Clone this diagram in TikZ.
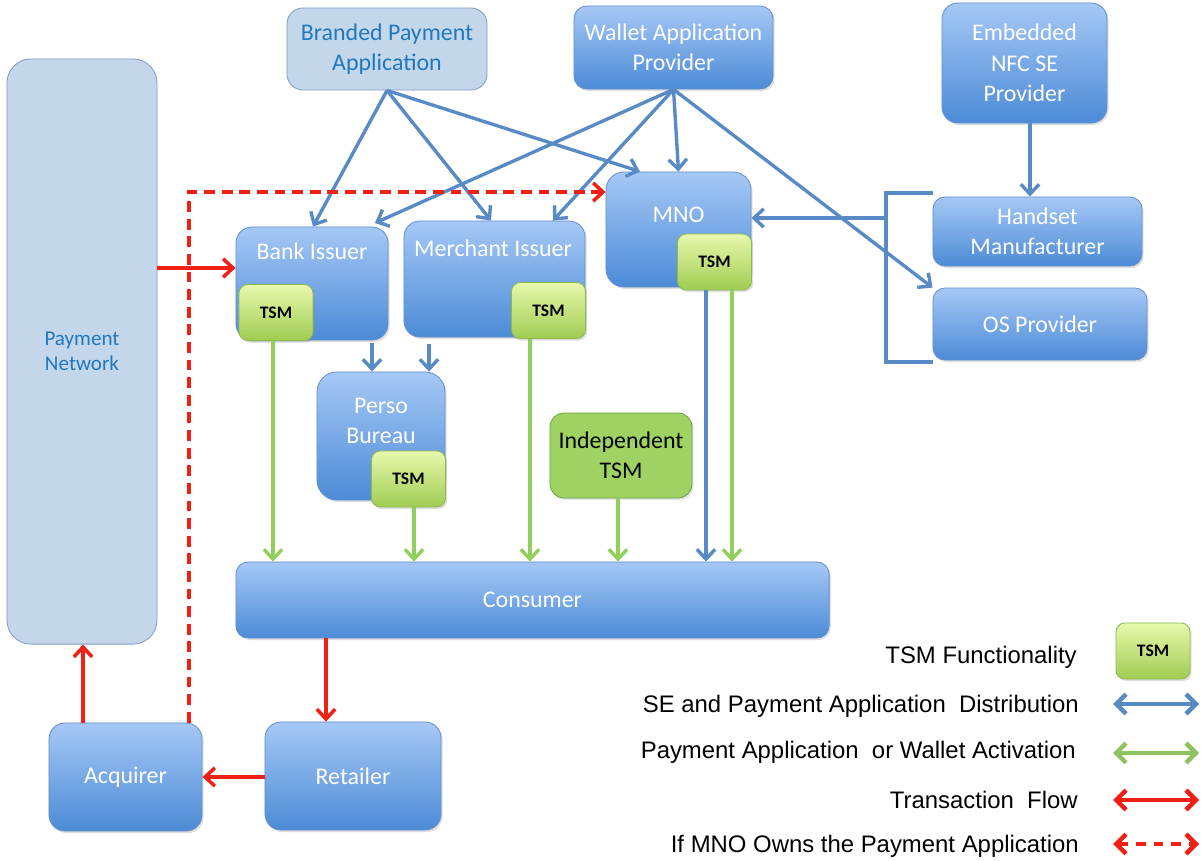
\documentclass[tikz,border=0pt]{standalone}
\usepackage{fontspec}
\setmainfont{Carlito}
\newfontfamily\legfont{Liberation Sans}
\usetikzlibrary{arrows.meta,shadows,positioning,calc}

\definecolor{boxtop}{RGB}{166,200,246}
\definecolor{boxbot}{RGB}{76,139,214}
\definecolor{boxline}{RGB}{100,145,205}
\definecolor{paleblue}{RGB}{196,214,234}
\definecolor{paleline}{RGB}{128,156,200}
\definecolor{paletext}{RGB}{32,120,192}
\definecolor{tsmtop}{RGB}{232,248,172}
\definecolor{tsmbot}{RGB}{160,204,82}
\definecolor{tsmline}{RGB}{140,185,80}
\definecolor{indepfill}{RGB}{158,210,98}
\definecolor{indepline}{RGB}{112,160,72}
\definecolor{distblue}{RGB}{88,138,198}
\definecolor{actgreen}{RGB}{146,206,92}
\definecolor{txred}{RGB}{240,32,20}

\begin{document}
\begin{tikzpicture}[x=0.025cm,y=-0.025cm]
	\tikzstyle{every node}+=[inner sep=0pt]
	\tikzstyle{blubox}=[draw=boxline, line width=0.6pt, rounded corners=0.4cm, top color=boxtop, bottom color=boxbot, text=white, align=center, font=\fontsize{17}{21.5}\selectfont, drop shadow={opacity=0.25, shadow xshift=1.2pt, shadow yshift=-1.5pt}]
	\tikzstyle{palebox}=[draw=paleline, line width=0.6pt, rounded corners=0.4cm, fill=paleblue, text=paletext, align=center, font=\fontsize{17}{21.5}\selectfont]
	\tikzstyle{tsmbox}=[draw=tsmline, line width=0.6pt, rounded corners=0.22cm, top color=tsmtop, bottom color=tsmbot, text=black, font=\bfseries\fontsize{12.5}{14}\selectfont, minimum width=1.85cm, minimum height=1.4cm, drop shadow={opacity=0.25, shadow xshift=1.2pt, shadow yshift=-1.5pt}]
	\tikzstyle{boxlbl}=[text=white, align=center, font=\fontsize{17}{21.5}\selectfont]
	\tikzstyle{distarr}=[draw=distblue, line width=2.4pt, -{Straight Barb[length=7pt,width=13pt]}]
	\tikzstyle{actarr}=[draw=actgreen, line width=2.4pt, -{Straight Barb[length=7pt,width=13pt]}]
	\tikzstyle{txarr}=[draw=txred, line width=2.5pt, -{Straight Barb[length=7pt,width=13pt]}]
	\tikzstyle{ownarr}=[txarr, dash pattern=on 0.27cm off 0.17cm]
	\tikzstyle{legtxt}=[anchor=base east, text=black, font=\legfont\fontsize{17}{20}\selectfont]
	\tikzstyle{legarr}=[line width=3.2pt, {Straight Barb[length=7pt,width=14pt]}-{Straight Barb[length=7pt,width=14pt]}]

	\useasboundingbox (0,0) rectangle (1201,860);

	% boxes
	\node[palebox, rounded corners=0.6cm, minimum width=3.75cm, minimum height=14.625cm, font=\fontsize{15}{18}\selectfont] (pnet) at (82,351.5) {Payment\\Network};
	\node[palebox, minimum width=5cm, minimum height=2.05cm] (brand) at (387,49) {Branded Payment\\Application};
	\node[blubox, rounded corners=0.32cm, minimum width=4.975cm, minimum height=2.075cm] (wallet) at (673.5,47.5) {Wallet Application\\Provider};
	\node[blubox, minimum width=4.125cm, minimum height=3cm] (nfcse) at (1024.5,63) {Embedded\\NFC SE\\Provider};
	\node[blubox, rounded corners=0.45cm, minimum width=3.625cm, minimum height=2.875cm] (mno) at (678.5,229.5) {};
	\node[tsmbox] (mnotsm) at (714.5,262) {TSM};
	\node[blubox, minimum width=3.8cm, minimum height=2.825cm] (bank) at (312,283.5) {};
	\node[tsmbox] (banktsm) at (276,312.5) {TSM};
	\node[blubox, minimum width=4.525cm, minimum height=2.9cm] (merch) at (494.5,279) {};
	\node[tsmbox] (merchtsm) at (548.5,310.5) {TSM};
	\node[blubox, rounded corners=0.3cm, minimum width=5.225cm, minimum height=1.725cm] (hset) at (1037.5,231.5) {Handset\\Manufacturer};
	\node[blubox, rounded corners=0.3cm, minimum width=5.35cm, minimum height=1.8cm] (osp) at (1040,324) {OS Provider};
	\node[blubox, rounded corners=0.5cm, minimum width=3.2cm, minimum height=3.2cm] (perso) at (381,436) {};
	\node[tsmbox] (persotsm) at (408.5,479) {TSM};
	\node[draw=indepline, line width=0.6pt, rounded corners=0.35cm, fill=indepfill, align=center, font=\fontsize{17}{21.5}\selectfont, minimum width=3.55cm, minimum height=2.125cm, drop shadow={opacity=0.2, shadow xshift=1.2pt, shadow yshift=-1.5pt}] (indep) at (621,455.5) {Independent\\TSM};
	\node[blubox, rounded corners=0.3cm, minimum width=14.825cm, minimum height=1.9cm] (cons) at (532.5,600) {Consumer};
	\node[blubox, minimum width=3.825cm, minimum height=2.7cm] (acq) at (125.5,777) {Acquirer};
	\node[blubox, minimum width=4.4cm, minimum height=2.7cm] (ret) at (353,776) {Retailer};

	% labels near the top of the boxes
	\node[boxlbl] (mnolbl) at ($(mno.north)+(0,43)$) {MNO};
	\node[boxlbl] (banklbl) at ($(bank.north)+(0,25)$) {Bank Issuer};
	\node[boxlbl] (merchlbl) at ($(merch.north)+(-1.5,28)$) {Merchant Issuer};
	\node[boxlbl] (persolbl) at ($(perso.north)+(0,49)$) {Perso\\Bureau};

	% distribution
	\draw[distarr] (brand.south) -- (bank.north -| 313,0);
	\draw[distarr] (brand.south) -- (merch.north -| 491,0);
	\draw[distarr] (brand.south) -- (mno.north -| 640,0);
	\draw[distarr] (wallet.south) -- (375,223);
	\draw[distarr] (wallet.south) -- (merch.north -| 553,0);
	\draw[distarr] (wallet.south) -- (mno.north);
	\draw[distarr] (wallet.south) -- (osp.north west);
	\draw[distarr] (nfcse.south -| 1030,0) -- (hset.north -| 1030,0);
	\coordinate (brtop) at (933,193);
	\coordinate (brmid) at (886,218);
	\coordinate (brbot) at (933,362);
	\draw[draw=distblue, line width=2.4pt] (brtop) -| (brmid) |- (brbot);
	\draw[distarr] (brmid) -- (mno.east |- brmid);
	\draw[distarr, shorten <=2pt] (bank.south -| 372,0) -- (perso.north -| 372,0);
	\draw[distarr, shorten <=5pt] (merch.south -| 429,0) -- (perso.north -| 429,0);
	\draw[distarr] (mnotsm.south -| 706,0) -- (cons.north -| 706,0);

	% activation
	\draw[actarr] (banktsm.south -| 273,0) -- (cons.north -| 273,0);
	\draw[actarr] (persotsm.south -| 414,0) -- (cons.north -| 414,0);
	\draw[actarr] (merchtsm.south -| 530,0) -- (cons.north -| 530,0);
	\draw[actarr] (indep.south -| 618,0) -- (cons.north -| 618,0);
	\draw[actarr] (mnotsm.south -| 732,0) -- (cons.north -| 732,0);

	% transactions
	\draw[txarr] (pnet.east |- 0,268) -- (bank.west |- 0,268);
	\draw[txarr] (cons.south -| 326,0) -- (ret.north -| 326,0);
	\draw[txarr] (ret.west |- 0,777) -- (acq.east |- 0,777);
	\draw[txarr] (acq.north -| 83,0) -- (pnet.south -| 83,0);
	\draw[ownarr] (acq.north -| 189,0) |- (mno.west |- 0,192);

	% legend
	\node[tsmbox] (legtsm) at (1153,651) {TSM};
	\node[legtxt] (leg0) at (1077,663) {TSM Functionality};
	\node[legtxt] (leg1) at (1079,712) {SE and Payment Application\ \ Distribution};
	\node[legtxt] (leg2) at (1076,758) {Payment Application\ \ or Wallet Activation};
	\node[legtxt] (leg3) at (1078,808) {Transaction\ \ Flow};
	\node[legtxt] (leg4) at (1079,852) {If MNO Owns the Payment Application};
	\coordinate (l1a) at (1113,704); \coordinate (l1b) at (1199,704);
	\coordinate (l2a) at (1113,753); \coordinate (l2b) at (1199,753);
	\coordinate (l3a) at (1113,800); \coordinate (l3b) at (1199,800);
	\coordinate (l4a) at (1113,844); \coordinate (l4b) at (1199,844);
	\draw[legarr, draw=distblue] (l1a) -- (l1b);
	\draw[legarr, draw=actgreen!85!gray] (l2a) -- (l2b);
	\draw[legarr, draw=txred] (l3a) -- (l3b);
	\draw[legarr, draw=txred, dash pattern=on 0.24cm off 0.2cm] (l4a) -- (l4b);
\end{tikzpicture}
\end{document}
